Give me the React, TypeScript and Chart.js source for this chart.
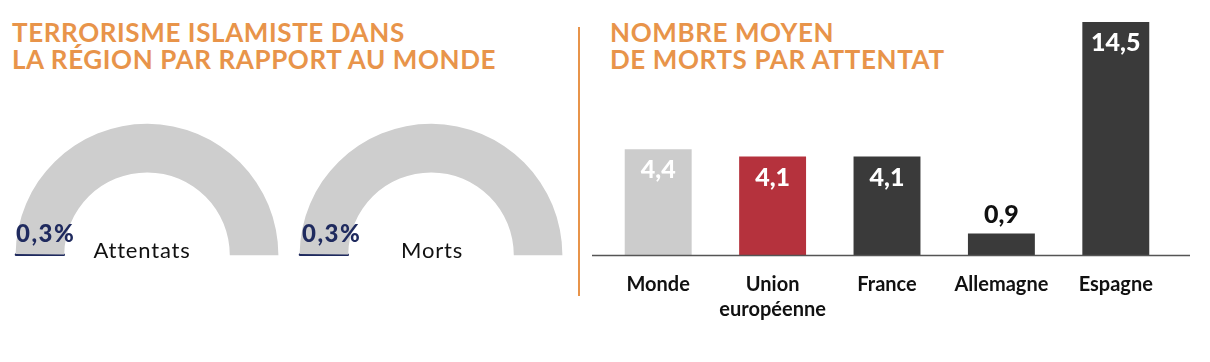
import React, { useEffect, useRef } from 'react';
import { Chart, registerables } from 'chart.js';

Chart.register(...registerables);

// ---- data ----
const gaugeLabels = ['Attentats', 'Morts'];
const gaugeShares = [0.3, 0.3]; // % of world total
const categories = [['Monde'], ['Union', 'européenne'], ['France'], ['Allemagne'], ['Espagne']];
const deathsPerAttack = [4.4, 4.1, 4.1, 0.9, 14.5];
const leftTitle = ['TERRORISME ISLAMISTE DANS', 'LA RÉGION PAR RAPPORT AU MONDE'];
const rightTitle = ['NOMBRE MOYEN', 'DE MORTS PAR ATTENTAT'];

// ---- styles ----
const ORANGE = '#e8944a';
const NAVY = '#1f2a5e';
const GAUGE_GRAY = '#cecece';
const barColors = ['#cccccc', '#b5323d', '#3a3a3a', '#3a3a3a', '#3a3a3a'];
const fmt = (v: number) => v.toFixed(1).replace('.', ',');

const baselinePlugin = {
  id: 'baseline',
  afterDatasetsDraw(chart: any) {
    const { ctx, chartArea } = chart;
    ctx.save();
    ctx.strokeStyle = '#555';
    ctx.lineWidth = 1.5;
    ctx.beginPath();
    ctx.moveTo(chartArea.left - 9, chartArea.bottom + 0.5);
    ctx.lineTo(chartArea.right + 17, chartArea.bottom + 0.5);
    ctx.stroke();
    ctx.restore();
  },
};

const valuePlugin = {
  id: 'values',
  afterDatasetsDraw(chart: any) {
    const { ctx, chartArea } = chart;
    const meta = chart.getDatasetMeta(0);
    ctx.save();
    ctx.font = '900 25px Lato';
    ctx.textAlign = 'center';
    ctx.textBaseline = 'alphabetic';
    meta.data.forEach((bar: any, i: number) => {
      const v = deathsPerAttack[i];
      const top = Math.max(bar.y, chartArea.top);
      const inside = v >= 2;
      ctx.fillStyle = inside ? '#ffffff' : '#111111';
      ctx.fillText(fmt(v), bar.x, inside ? top + 29 : top - 10);
    });
    ctx.restore();
  },
};

export default function App() {
  const g1 = useRef<HTMLCanvasElement>(null);
  const g2 = useRef<HTMLCanvasElement>(null);
  const barRef = useRef<HTMLCanvasElement>(null);

  useEffect(() => {
    const charts: Chart[] = [];
    [g1, g2].forEach((r, i) => {
      if (!r.current) return;
      charts.push(
        new Chart(r.current, {
          type: 'doughnut',
          data: {
            labels: ['Région', 'Reste du monde'],
            datasets: [
              {
                data: [gaugeShares[i], 100 - gaugeShares[i]],
                backgroundColor: [NAVY, GAUGE_GRAY],
                borderColor: [NAVY, GAUGE_GRAY],
                borderWidth: [1.6, 0],
                hoverOffset: 0,
              },
            ],
          },
          options: {
            responsive: false,
            animation: false,
            events: [],
            rotation: -90,
            circumference: 180,
            cutout: '63%',
            layout: { padding: 0 },
            plugins: { legend: { display: false }, tooltip: { enabled: false } },
          } as any,
        })
      );
    });
    if (barRef.current) {
      charts.push(
        new Chart(barRef.current, {
          type: 'bar',
          data: {
            labels: categories as any,
            datasets: [
              {
                data: deathsPerAttack,
                backgroundColor: barColors,
                barPercentage: 0.585,
                categoryPercentage: 1,
                clip: 0,
              } as any,
            ],
          },
          options: {
            responsive: false,
            animation: false,
            events: [],
            layout: { padding: { top: 22, bottom: 10, left: 21, right: 27 } },
            plugins: { legend: { display: false }, tooltip: { enabled: false } },
            scales: {
              y: { display: false, min: 0, max: 9.7 },
              x: {
                grid: { display: false, drawTicks: false },
                border: { display: false },
                ticks: {
                  color: '#111',
                  font: { family: 'Lato', weight: 'bold', size: 20, lineHeight: 1.25 },
                  padding: 17,
                  maxRotation: 0,
                  autoSkip: false,
                },
                afterFit: (s: any) => {
                  s.height = 75;
                },
              },
            },
          } as any,
          plugins: [baselinePlugin, valuePlugin],
        })
      );
    }
    let alive = true;
    const fonts: any = (document as any).fonts;
    if (fonts && fonts.load) {
      Promise.all([fonts.load('900 25px Lato'), fonts.load('bold 20px Lato')]).then(() => {
        if (alive) charts.forEach((c) => c.update());
      });
    }
    return () => {
      alive = false;
      charts.forEach((c) => c.destroy());
    };
  }, []);

  const titleStyle = (left: number): React.CSSProperties => ({
    position: 'absolute',
    left,
    top: 19,
    color: ORANGE,
    fontFamily: 'Lato',
    fontWeight: 700,
    fontSize: 26,
    lineHeight: '27px',
    letterSpacing: 0.6,
    whiteSpace: 'nowrap',
  });

  const gaugeLeft = [14, 298];
  const gaugeCenter = [142, 432];
  const pctLeft = [16, 302];

  return (
    <div
      style={{
        position: 'absolute',
        left: 0,
        top: 0,
        width: 1210,
        height: 362,
        background: '#ffffff',
        overflow: 'hidden',
        fontFamily: 'Lato',
      }}
    >
      <div style={titleStyle(12)}>
        {leftTitle.map((t) => (
          <div key={t}>{t}</div>
        ))}
      </div>
      <div style={titleStyle(610)}>
        {rightTitle.map((t) => (
          <div key={t}>{t}</div>
        ))}
      </div>
      <div style={{ position: 'absolute', left: 578, top: 27, width: 2, height: 269, background: ORANGE }} />
      {gaugeLabels.map((lab, i) => (
        <React.Fragment key={lab}>
          <canvas
            ref={i === 0 ? g1 : g2}
            width={266}
            height={133}
            style={{ position: 'absolute', left: gaugeLeft[i], top: 123, width: 266, height: 133, display: 'block' }}
          />
          <div
            style={{
              position: 'absolute',
              left: pctLeft[i],
              top: 219,
              color: NAVY,
              fontWeight: 900,
              fontSize: 24,
              lineHeight: 1.2,
              letterSpacing: 1.5,
              whiteSpace: 'nowrap',
            }}
          >
            {fmt(gaugeShares[i])}%
          </div>
          <div
            style={{
              position: 'absolute',
              left: gaugeCenter[i] - 100,
              width: 200,
              top: 237,
              textAlign: 'center',
              color: '#111',
              fontWeight: 400,
              fontSize: 22,
              lineHeight: 1.2,
              letterSpacing: 0.8,
            }}
          >
            {lab}
          </div>
        </React.Fragment>
      ))}
      <canvas
        ref={barRef}
        width={620}
        height={340}
        style={{ position: 'absolute', left: 580, top: 0, width: 620, height: 340, display: 'block' }}
      />
    </div>
  );
}
